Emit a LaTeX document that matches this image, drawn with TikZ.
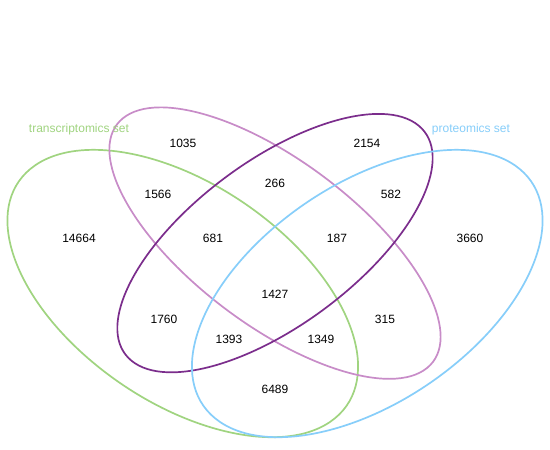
\documentclass[tikz,border=0pt]{standalone}
\usepackage{fontspec}
\setmainfont{Liberation Sans}
\definecolor{vgreen}{HTML}{A0D480}
\definecolor{vpink}{HTML}{C88CC8}
\definecolor{vpurple}{HTML}{7B2D8C}
\definecolor{vblue}{HTML}{87CEFA}
\tikzset{
  vset/.style={line width=1.7pt},
  count/.style={inner sep=0pt, font=\fontsize{12}{14}\selectfont, text=black},
  setlabel/.style={inner sep=0pt, anchor=base, font=\fontsize{12}{14}\selectfont}
}
\begin{document}
\begin{tikzpicture}[x=1pt,y=1pt]
\useasboundingbox (0,0) rectangle (550,450);
\fill[white] (0,0) rectangle (550,450);
\begin{scope}[shift={(-32.5,-80.4)}, xscale=615, yscale=504]
  \draw[vset, vgreen, rotate around={135:(0.35,0.47)}] (0.35,0.47) ellipse [x radius=0.35, y radius=0.2];
  \draw[vset, vpink, rotate around={135:(0.5,0.57)}] (0.5,0.57) ellipse [x radius=0.35, y radius=0.15];
  \draw[vset, vpurple, rotate around={45:(0.5,0.57)}] (0.5,0.57) ellipse [x radius=0.33, y radius=0.15];
  \draw[vset, vblue, rotate around={45:(0.65,0.47)}] (0.65,0.47) ellipse [x radius=0.35, y radius=0.2];
\end{scope}
\node[count] (n1035) at (183,307) {1035};
\node[count] (n2154) at (367,307) {2154};
\node[count] (n1566) at (158,256) {1566};
\node[count] (n266) at (275,267) {266};
\node[count] (n582) at (391,256) {582};
\node[count] (n14664) at (79,212) {14664};
\node[count] (n681) at (213,212) {681};
\node[count] (n187) at (337,212) {187};
\node[count] (n3660) at (470,212) {3660};
\node[count] (n1427) at (275,156) {1427};
\node[count] (n1760) at (164,131) {1760};
\node[count] (n315) at (385,131) {315};
\node[count] (n1393) at (229,111) {1393};
\node[count] (n1349) at (321,111) {1349};
\node[count] (n6489) at (275,61) {6489};
\node[setlabel, text=vgreen] (ltrans) at (79,317.7) {transcriptomics set};
\node[setlabel, text=vblue] (lprot) at (471,317.7) {proteomics set};
\end{tikzpicture}
\end{document}
